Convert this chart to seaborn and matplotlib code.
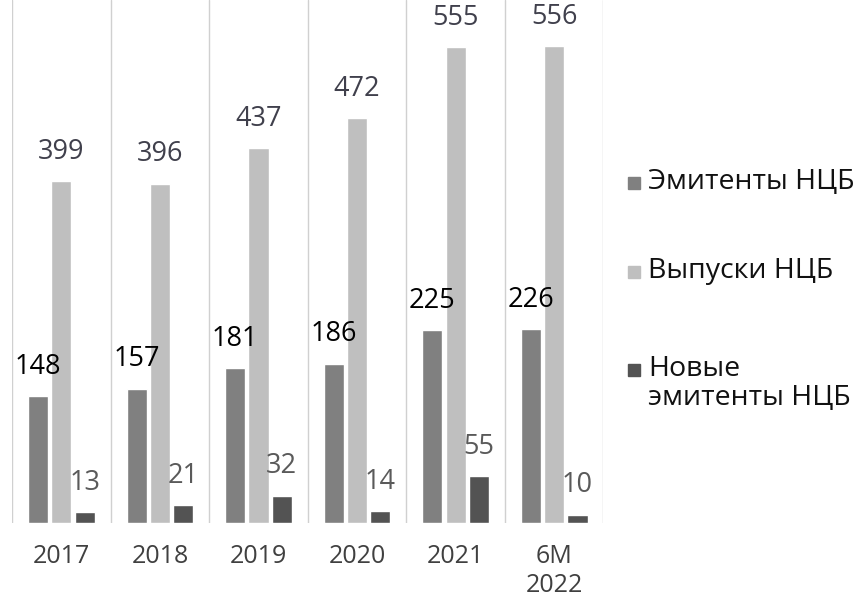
import matplotlib
matplotlib.use("Agg")
import matplotlib.pyplot as plt
from matplotlib.patches import Rectangle
import seaborn as sns
import pandas as pd
import numpy as np

# данные с графика
years = ['2017', '2018', '2019', '2020', '2021', '6M\n2022']
emitents = [148, 157, 181, 186, 225, 226]
issues = [399, 396, 437, 472, 555, 556]
new_emitents = [13, 21, 32, 14, 55, 10]
series_names = ['Эмитенты НЦБ', 'Выпуски НЦБ', 'Новые\nэмитенты НЦБ']
colors = ['#808080', '#bfbfbf', '#535353']
label_colors = ['#000000', '#40404c', '#5a5a5a']

df = pd.DataFrame({
    'year': years * 3,
    'series': np.repeat(series_names, len(years)),
    'value': emitents + issues + new_emitents,
})

sns.set_theme(style="white")
plt.rcParams['font.family'] = ['Open Sans', 'DejaVu Sans']

fig = plt.figure(figsize=(8.67, 6), dpi=100)
ax = fig.add_axes([0.014, 0.128, 0.682, 0.872])

sns.barplot(data=df, x='year', y='value', hue='series', palette=colors,
            width=0.71, gap=0.14, saturation=1, legend=False, ax=ax)

for cont, c in zip(ax.containers, label_colors):
    ax.bar_label(cont, padding=11, fontsize=19.5, color=c)

ax.set_ylim(0, 610)
ax.set_xlim(-0.5, len(years) - 0.5)
ax.set_yticks([])
ax.set_xlabel('')
ax.set_ylabel('')
ax.set_xticks(np.arange(-0.5, len(years)), minor=True)
ax.grid(axis='x', which='minor', color='#d0d0d0', linewidth=1)
ax.tick_params(axis='x', which='both', length=0, labelsize=18, labelcolor='#404040', pad=15)
for t in ax.get_xticklabels():
    t.set_linespacing(1.22)
for s in ax.spines.values():
    s.set_visible(False)

# легенда справа: квадрат выровнен по первой строке подписи
W, H = 867, 600
legend_y = [183, 272, 370]
for name, col, y in zip(series_names, colors, legend_y):
    fig.patches.append(Rectangle((628 / W, 1 - (y + 6) / H), 12 / W, 12 / H,
                                 transform=fig.transFigure, color=col))
    fig.text(648 / W, 1 - (y - 15) / H, name, ha='left', va='top',
             fontsize=20.5, color='#111111', linespacing=1.05)

fig.savefig('out.png', dpi=100)
